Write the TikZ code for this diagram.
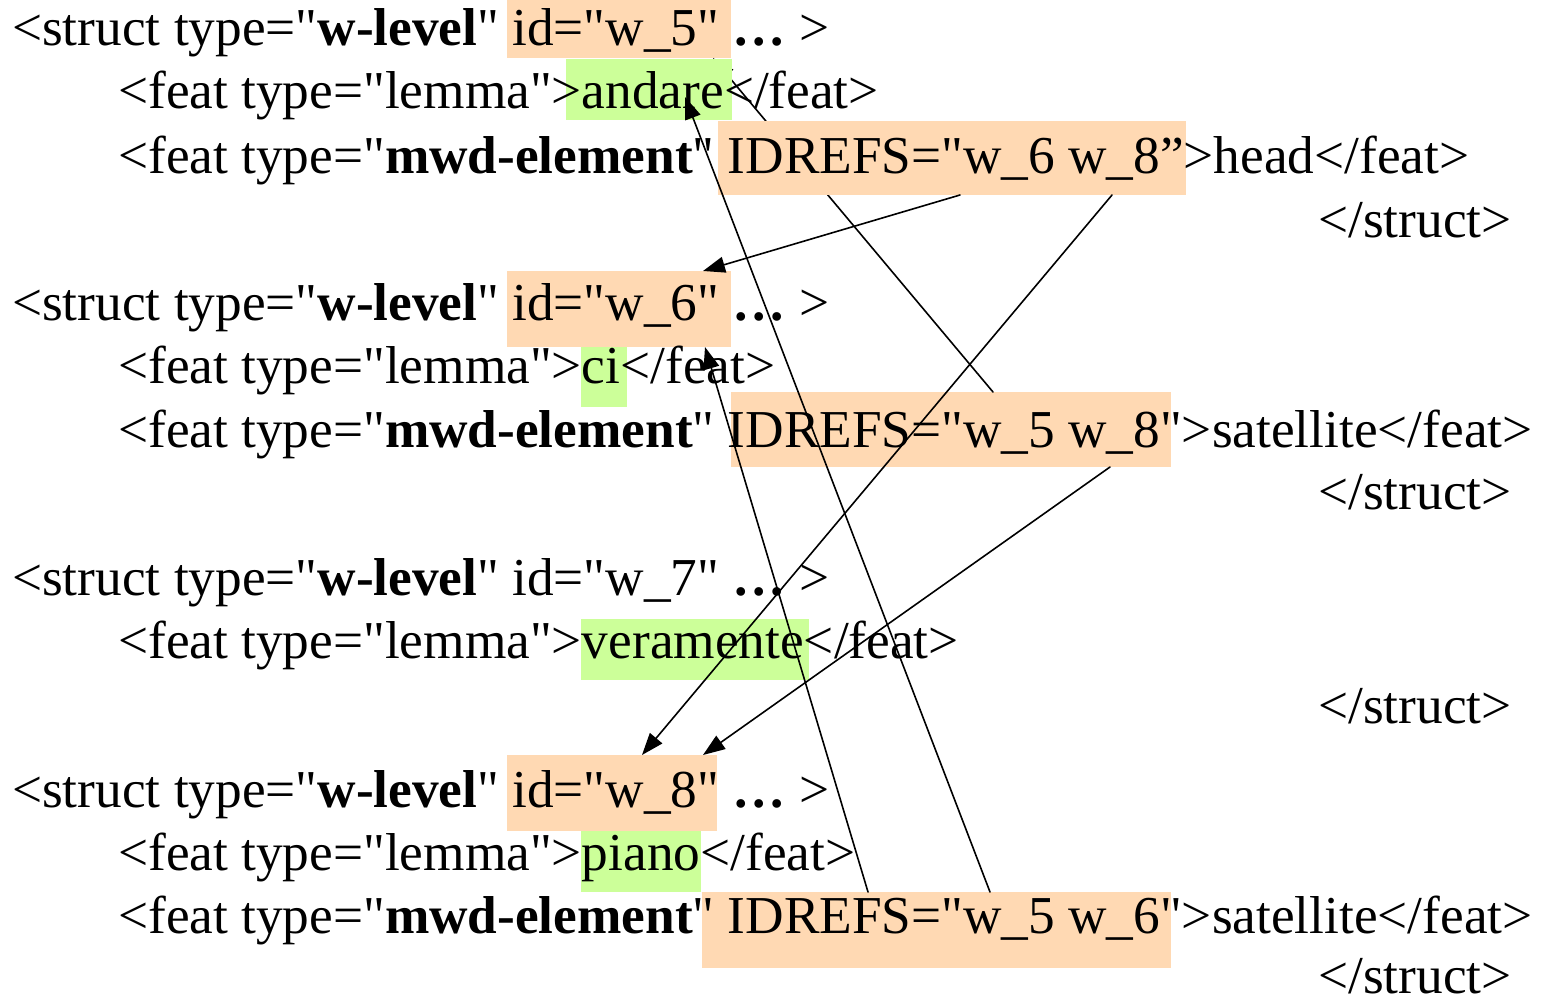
\documentclass[tikz,border=0pt]{standalone}
\usepackage{fontspec}
\setmainfont{Liberation Serif}[Ligatures=TeXOff]
\usepackage{xcolor}
\usepackage{tikz}
\usetikzlibrary{arrows.meta}
\definecolor{idpeach}{HTML}{FFD9B3}
\definecolor{lemmagreen}{HTML}{CCFF99}
\tikzset{
  xml diagram/.style={
    x=1pt, y=-1pt,
    font=\fontsize{53.3}{64}\selectfont,
    line cap=round,
    line join=round
  },
  xmlline/.style={
    anchor=base west,
    inner sep=0pt
  },
  markbox/.style={
    anchor=north west,
    draw=none,
    inner sep=0pt,
    outer sep=0pt
  },
  idbox/.style={markbox, fill=idpeach},
  lemmabox/.style={markbox, fill=lemmagreen},
  refarrow/.style={
    -{Triangle[length=22pt,width=16pt]},
    draw=black,
    line width=1.6pt
  }
}

\begin{document}
\begin{tikzpicture}[xml diagram]
\useasboundingbox (0,0) rectangle (1547,1001);

% highlighted ids and lemmas
\node[idbox, minimum width=224, minimum height=58] (id5) at (507,0) {};
\node[idbox, minimum width=224, minimum height=76] (id6) at (507,271) {};
\node[lemmabox, minimum width=46, minimum height=60] (ci) at (581,347) {};
\node[idbox, minimum width=440, minimum height=75] (ref6) at (731,392) {};
\node[lemmabox, minimum width=228, minimum height=61] (vera) at (581,619) {};
\node[idbox, minimum width=210, minimum height=76] (id8) at (507,755) {};
\node[lemmabox, minimum width=120, minimum height=61] (piano) at (581,831) {};
\node[idbox, minimum width=469, minimum height=76] (ref8) at (702,892) {};

% this one runs under the andare and w_5 boxes
\draw[refarrow] ([xshift=262]ref6.north west) -- ([xshift=206]id5.south west);

\node[lemmabox, minimum width=166, minimum height=61] (andare) at (566,59) {};
\node[idbox, minimum width=468, minimum height=74] (ref5) at (718,121) {};

% w_5
\node[xmlline] (s5) at (12,45) {<struct type="\textbf{w-level}" id="w\_5" \textbf{…} >};
\node[xmlline] (s5lem) at (118,108) {<feat type="lemma">andare</feat>};
\node[xmlline] (s5mwd) at (118,173) {<feat type="\textbf{mwd-element}" IDREFS="w\_6 w\_8”>head</feat>};
\node[xmlline] (s5end) at (1318,237) {</struct>};
% w_6
\node[xmlline] (s6) at (12,320) {<struct type="\textbf{w-level}" id="w\_6" \textbf{…} >};
\node[xmlline] (s6lem) at (118,383) {<feat type="lemma">ci</feat>};
\node[xmlline] (s6mwd) at (118,447) {<feat type="\textbf{mwd-element}" IDREFS="w\_5 w\_8">satellite</feat>};
\node[xmlline] (s6end) at (1318,509) {</struct>};
% w_7
\node[xmlline] (s7) at (12,595) {<struct type="\textbf{w-level}" id="w\_7" \textbf{…} >};
\node[xmlline] (s7lem) at (118,658) {<feat type="lemma">veramente</feat>};
\node[xmlline] (s7end) at (1318,723) {</struct>};
% w_8
\node[xmlline] (s8) at (12,807) {<struct type="\textbf{w-level}" id="w\_8" \textbf{…} >};
\node[xmlline] (s8lem) at (118,870) {<feat type="lemma">piano</feat>};
\node[xmlline] (s8mwd) at (118,933) {<feat type="\textbf{mwd-element}" IDREFS="w\_5 w\_6">satellite</feat>};
\node[xmlline] (s8end) at (1318,993) {</struct>};

% IDREFS links
\draw[refarrow] ([xshift=242]ref5.south west) -- ([xshift=196]id6.north west);
\draw[refarrow] ([xshift=394]ref5.south west) -- ([xshift=135]id8.north west);
\draw[refarrow] ([xshift=379]ref6.south west) -- ([xshift=196]id8.north west);
\draw[refarrow] ([xshift=288]ref8.north west) -- ([xshift=36,yshift=-7.5]andare.center);
\draw[refarrow] ([xshift=166]ref8.north west) -- ([xshift=198]id6.south west);
\end{tikzpicture}
\end{document}
